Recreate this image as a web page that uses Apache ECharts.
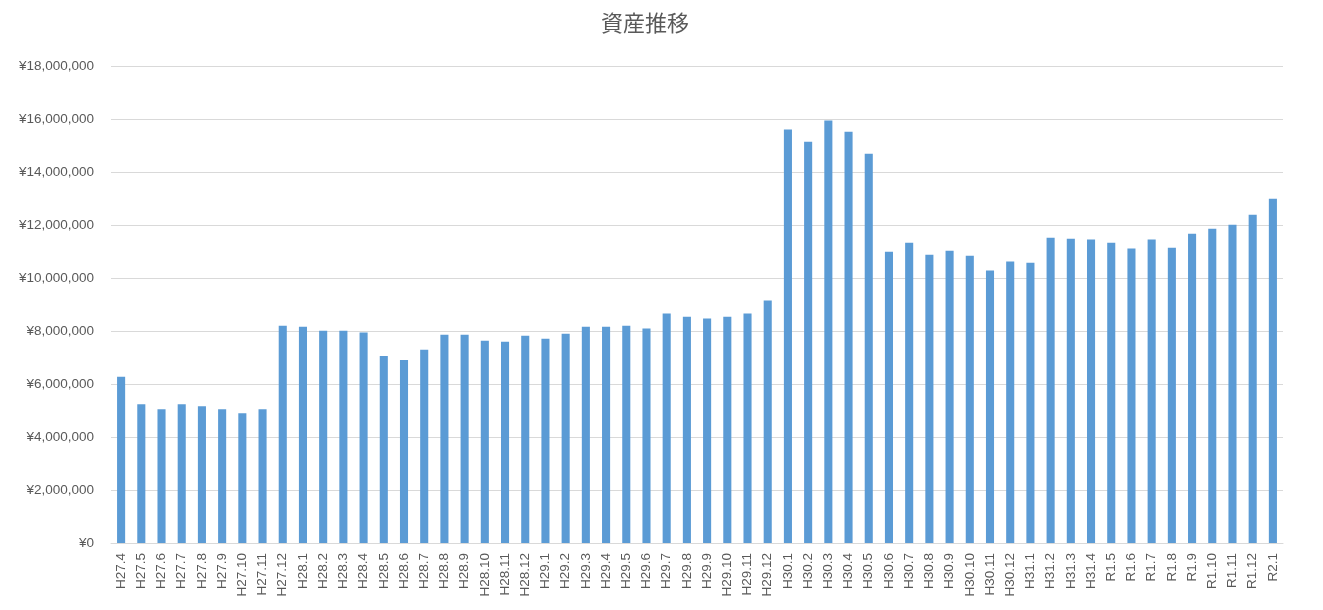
<!DOCTYPE html>
<html>
<head>
<meta charset="utf-8">
<script src="https://cdn.jsdelivr.net/npm/echarts@6/dist/echarts.min.js"></script>
<style>html,body{margin:0;padding:0;background:#fff}#c{width:1323px;height:610px}</style>
</head>
<body>
<div id="c"></div>
<script>
const categories = ["H27.4","H27.5","H27.6","H27.7","H27.8","H27.9","H27.10","H27.11","H27.12",
"H28.1","H28.2","H28.3","H28.4","H28.5","H28.6","H28.7","H28.8","H28.9","H28.10","H28.11","H28.12",
"H29.1","H29.2","H29.3","H29.4","H29.5","H29.6","H29.7","H29.8","H29.9","H29.10","H29.11","H29.12",
"H30.1","H30.2","H30.3","H30.4","H30.5","H30.6","H30.7","H30.8","H30.9","H30.10","H30.11","H30.12",
"H31.1","H31.2","H31.3","H31.4","R1.5","R1.6","R1.7","R1.8","R1.9","R1.10","R1.11","R1.12","R2.1"];
const assets = [6270000,5240000,5050000,5240000,5160000,5050000,4900000,5050000,8200000,
8160000,8010000,8010000,7940000,7060000,6910000,7290000,7860000,7860000,7630000,7590000,7820000,
7710000,7900000,8160000,8160000,8200000,8090000,8660000,8540000,8470000,8540000,8660000,9150000,
15600000,15140000,15940000,15520000,14690000,10990000,11330000,10880000,11030000,10840000,10280000,10620000,
10580000,11520000,11480000,11450000,11330000,11110000,11450000,11140000,11670000,11860000,12010000,12390000,12990000];
const yTicks = [0,2000000,4000000,6000000,8000000,10000000,12000000,14000000,16000000,18000000];
const chartTitle = "資産推移";

const fmt = v => "¥" + v.toLocaleString("en-US");
const chart = echarts.init(document.getElementById('c'));
chart.setOption({
  animation:false,
  title:{text:chartTitle,left:596,top:7,textStyle:{fontFamily:'Noto Sans CJK JP',fontSize:22,fontWeight:'normal',color:'#595959'}},
  grid:{left:111,right:40,top:66,bottom:67,containLabel:false},
  xAxis:{type:'category',data:categories,
    axisLine:{lineStyle:{color:'#D9D9D9'}},axisTick:{show:false},
    axisLabel:{rotate:90,interval:0,color:'#595959',fontFamily:'Liberation Sans',fontSize:13.5,margin:10}},
  yAxis:{type:'value',min:yTicks[0],max:yTicks[yTicks.length-1],interval:2000000,
    axisLine:{show:false},axisTick:{show:false},
    splitLine:{lineStyle:{color:'#D9D9D9'}},
    axisLabel:{formatter:fmt,color:'#595959',fontFamily:'Liberation Sans',fontSize:13.5,margin:17}},
  series:[{type:'bar',data:assets,barWidth:'40%',itemStyle:{color:'#5B9BD5'}}]
});
</script>
</body>
</html>
